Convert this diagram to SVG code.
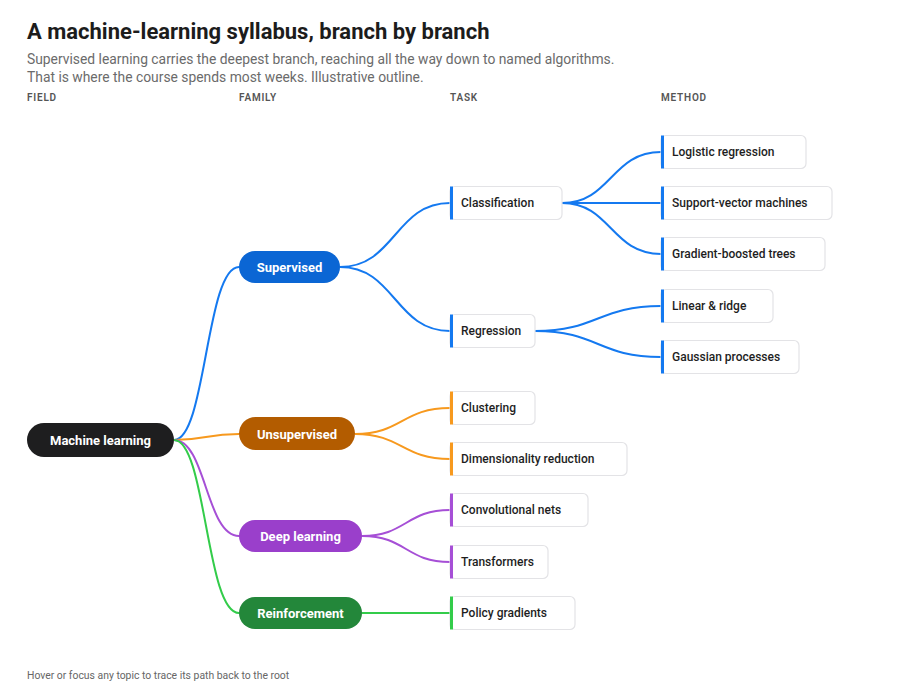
<svg xmlns="http://www.w3.org/2000/svg" width="900" height="693" viewBox="0 0 900 693">
<style>
text{font-family:Roboto,"Liberation Sans",sans-serif}
.t{font-size:22px;font-weight:700;fill:#1c1c1c}
.s{font-size:13.85px;fill:#6b6b6b}
.h{font-size:10px;font-weight:600;fill:#555;letter-spacing:0.8px}
.f{font-size:10.4px;fill:#666}
.pl{font-size:13px;font-weight:700;fill:#fff;text-anchor:middle}
.bx{fill:#fff;stroke:#e3e3e6;stroke-width:1.2}
.lb{font-size:12px;font-weight:500;fill:#1e1e1e}
.e{fill:none;stroke-width:2}
.b{stroke:#1479f0}.o{stroke:#f7991e}.p{stroke:#a64fd6}.g{stroke:#33cc4a}
</style>
<rect width="900" height="693" fill="#fff"/>
<text class="t" x="27" y="39">A machine-learning syllabus, branch by branch</text>
<text class="s" x="27" y="64">Supervised learning carries the deepest branch, reaching all the way down to named algorithms.</text>
<text class="s" x="27" y="82">That is where the course spends most weeks. Illustrative outline.</text>
<text class="h" x="27" y="101">FIELD</text>
<text class="h" x="239" y="101">FAMILY</text>
<text class="h" x="450" y="101">TASK</text>
<text class="h" x="661" y="101">METHOD</text>
<g id="connectors">
<path class="e b" d="M174,440 C206,440 206,267 239,267"/>
<path class="e o" d="M174,440 C206,440 206,434 239,434"/>
<path class="e p" d="M174,440 C206,440 206,536 239,536"/>
<path class="e g" d="M174,440 C206,440 206,613 239,613"/>
<path class="e b" d="M340,267 C395,267 395,203 450,203"/>
<path class="e b" d="M340,267 C395,267 395,331 450,331"/>
<path class="e o" d="M355,434 C402,434 402,408 450,408"/>
<path class="e o" d="M355,434 C402,434 402,459 450,459"/>
<path class="e p" d="M362,536 C406,536 406,510 450,510"/>
<path class="e p" d="M362,536 C406,536 406,562 450,562"/>
<path class="e g" d="M362,613 L450,613"/>
<path class="e b" d="M562,203 C611,203 611,152 661,152"/>
<path class="e b" d="M562,203 L661,203"/>
<path class="e b" d="M562,203 C611,203 611,254 661,254"/>
<path class="e b" d="M535,331 C598,331 598,306 661,306"/>
<path class="e b" d="M535,331 C598,331 598,357 661,357"/>
</g>
<g id="root"><rect x="27" y="423" width="147" height="34" rx="17" fill="#1e1e1f"/><text class="pl" x="100.5" y="444.5">Machine learning</text></g>
<g id="supervised"><rect x="239" y="251" width="101" height="32" rx="16" fill="#0b66d4"/><text class="pl" x="289.5" y="271.5">Supervised</text></g>
<g id="unsupervised"><rect x="239" y="417" width="116" height="33" rx="16.5" fill="#b35c00"/><text class="pl" x="297" y="438.5">Unsupervised</text></g>
<g id="deep"><rect x="239" y="520" width="123" height="32" rx="16" fill="#9a3fcb"/><text class="pl" x="300.5" y="540.5">Deep learning</text></g>
<g id="reinforcement"><rect x="239" y="597" width="123" height="32" rx="16" fill="#23873a"/><text class="pl" x="300.5" y="617.5">Reinforcement</text></g>
<g id="classification"><rect class="bx" x="450" y="186.5" width="112" height="33" rx="5"/><rect x="450" y="186.5" width="3" height="33" fill="#1479f0"/><text class="lb" x="461" y="207">Classification</text></g>
<g id="regression"><rect class="bx" x="450" y="314.5" width="85" height="33" rx="5"/><rect x="450" y="314.5" width="3" height="33" fill="#1479f0"/><text class="lb" x="461" y="335">Regression</text></g>
<g id="clustering"><rect class="bx" x="450" y="391.5" width="85" height="33" rx="5"/><rect x="450" y="391.5" width="3" height="33" fill="#f7991e"/><text class="lb" x="461" y="412">Clustering</text></g>
<g id="dimred"><rect class="bx" x="450" y="442.5" width="177" height="33" rx="5"/><rect x="450" y="442.5" width="3" height="33" fill="#f7991e"/><text class="lb" x="461" y="463">Dimensionality reduction</text></g>
<g id="conv"><rect class="bx" x="450" y="493.5" width="138" height="33" rx="5"/><rect x="450" y="493.5" width="3" height="33" fill="#a64fd6"/><text class="lb" x="461" y="514">Convolutional nets</text></g>
<g id="transformers"><rect class="bx" x="450" y="545.5" width="98" height="33" rx="5"/><rect x="450" y="545.5" width="3" height="33" fill="#a64fd6"/><text class="lb" x="461" y="566">Transformers</text></g>
<g id="policy"><rect class="bx" x="450" y="596.5" width="125" height="33" rx="5"/><rect x="450" y="596.5" width="3" height="33" fill="#33cc4a"/><text class="lb" x="461" y="617">Policy gradients</text></g>
<g id="logistic"><rect class="bx" x="661" y="135.5" width="145" height="33" rx="5"/><rect x="661" y="135.5" width="3" height="33" fill="#1479f0"/><text class="lb" x="672" y="156">Logistic regression</text></g>
<g id="svm"><rect class="bx" x="661" y="186.5" width="171" height="33" rx="5"/><rect x="661" y="186.5" width="3" height="33" fill="#1479f0"/><text class="lb" x="672" y="207">Support-vector machines</text></g>
<g id="gbt"><rect class="bx" x="661" y="237.5" width="164" height="33" rx="5"/><rect x="661" y="237.5" width="3" height="33" fill="#1479f0"/><text class="lb" x="672" y="258">Gradient-boosted trees</text></g>
<g id="linear"><rect class="bx" x="661" y="289.5" width="112" height="33" rx="5"/><rect x="661" y="289.5" width="3" height="33" fill="#1479f0"/><text class="lb" x="672" y="310">Linear &amp; ridge</text></g>
<g id="gaussian"><rect class="bx" x="661" y="340.5" width="138" height="33" rx="5"/><rect x="661" y="340.5" width="3" height="33" fill="#1479f0"/><text class="lb" x="672" y="361">Gaussian processes</text></g>
<text class="f" x="27" y="679">Hover or focus any topic to trace its path back to the root</text>
</svg>
